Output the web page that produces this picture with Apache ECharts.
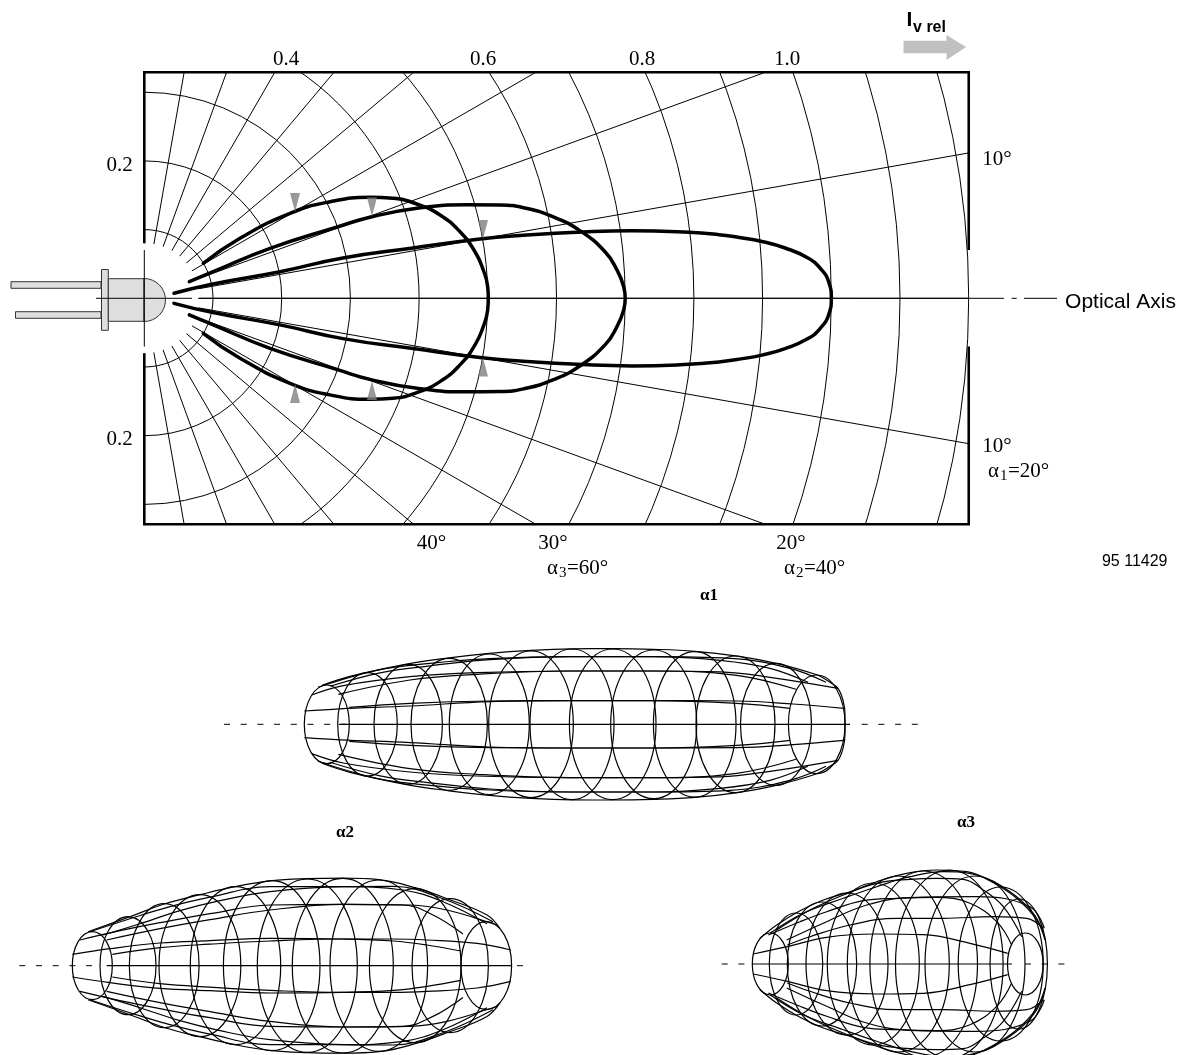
<!DOCTYPE html>
<html><head><meta charset="utf-8">
<script src="https://cdn.jsdelivr.net/npm/echarts@6/dist/echarts.min.js"></script>
<style>html,body{margin:0;padding:0;background:#fff}#c{width:1185px;height:1055px}</style>
</head><body><div id="c"></div>
<script>
// --- radiation lobes: upper halves as [relative intensity along axis, across axis]
const lobeA1 = [[.0432,.0073],[.100,.0208],[.1975,.0387],[.2892,.0587],[.3911,.0732],[.4886,.0863],[.5468,.0914],[.6458,.0969],[.7098,.0984],[.7929,.0961],[.8363,.0926],[.8686,.0882],[.9006,.0824],[.9327,.0732],[.9647,.0594],[.9836,.0441],[.9967,.0223],[1.0,0]];
const lobeA2 = [[.0655,.0242],[.1003,.0387],[.1830,.0728],[.2820,.1042],[.3314,.1188],[.3970,.1310],[.4697,.1362],[.5177,.1358],[.5556,.1310],[.5946,.1188],[.6328,.0993],[.6706,.0678],[.6880,.0412],[.6978,.0169],[.7000,0]];
const lobeA3 = [[.0859,.0509],[.1393,.0873],[.2121,.1237],[.2703,.1406],[.3285,.1470],[.3620,.1456],[.3965,.1373],[.4304,.1213],[.4595,.0969],[.4814,.0678],[.4934,.0412],[.4998,.0169],[.5007,0]];
const halfMarksUp = [[.2194,.1394],[.3314,.1329],[.4930,.1001]];
const halfMarksDown = [[.2194,-.1386],[.3314,-.1342],[.4930,-.1000]];
const opticalAxis = [[[-.0703,0],[.0694,0]],[[.0782,0],[1.2513,0]],[[1.2625,0],[1.2698,0]],[[1.2805,0],[1.3285,0]]];
const frameParts = [[[0,.08],[0,.329],[1.2,.329],[1.2,.0703]],[[0,-.08],[0,-.329],[1.2,-.329],[1.2,-.0703]]];
const ledAxisLine = [[0,.0703],[0,-.0703]];

// --- tick labels
const topTicks = ['0.4','0.6','0.8','1.0'];
const sideTicks = ['0.2','0.2'];
const rightTicks = ['10°','10°'];
const bottomTicks = ['40°','30°','20°'];

// --- wireframe balloons: rings [centre, half width, half height], meridians [along, offset]
const ringsA1 = [[326.8,22.5,39.3],[367.5,29.8,51.7],[408.2,34.2,60],[449.2,38.2,66],[489.3,40,70.3],[531,42.3,73.3],[572,42,75.3],[612.7,43.3,75.3],[653.7,43,74.3],[694.7,41.3,72.7],[735.5,39.5,68.3],[776,35.5,61],[816.7,28.3,49.3]];
const meridiansA1 = [
 [[304.3,13.3],[340,15.5],[410,18.3],[490,22.7],[570,23.7],[653,23.7],[736.7,21],[790,16]],
 [[349.3,17],[410,21],[490,23.3],[570,23.7],[653,23.7],[736.7,23.3],[793,20.3],[844,16]],
 [[311.7,29.3],[343.3,38.7],[410,47.7],[476.7,51.7],[570,53.3],[653,53.3],[736.7,49],[796,35]],
 [[338.3,30],[410,44.3],[476.7,50],[570,53.3],[653,53.3],[720,52.5],[770,47],[838,36]],
 [[318,37],[376.7,54],[430,61],[490,65.7],[570,67.7],[653,67.7],[720,64],[770,56],[808,42]],
 [[330,38],[380,51.5],[430,58.5],[490,64.7],[570,67.7],[653,67.7],[730,66],[790,56],[826,42]],
 [[322,39],[350,48],[408,60.5],[449,66.5],[489.3,71],[531,74],[572,75.5],[613,75.7],[653,75],[695,73],[735.5,68.5],[776,61],[816.7,49.5],[830,42],[838,36],[843,24],[845,10],[845,0]]
];
const ringsA2 = [[92.3,20,34],[128,28,49],[164.2,34.9,62],[199.9,40.9,71],[235.5,45.2,79],[271.7,48.3,85],[307.3,50,86.7],[342.8,50.5,87.3],[378.8,48.8,85.7],[415.2,45.8,77],[450.2,38.2,67],[486.3,25.3,44]];
const meridiansA2 = [
 [[72.3,11.3],[110,17],[160,22.7],[210,25],[270,27.3],[343,26.7],[393,24.7],[427,20.7],[461,14.7]],
 [[112.3,11.3],[160,18],[210,21.5],[270,24.7],[343,26.7],[393,26.7],[427,25.7],[477,22.3],[510.7,15.7]],
 [[80,25.7],[120,35],[160,43],[210,52],[270,60.7],[343,61.3],[403,60.7],[433,50.7],[463,31.7]],
 [[106.7,25.7],[160,37],[210,46],[270,55.7],[343,61.3],[410,60.7],[447,55.7],[493,42],[498,40]],
 [[90,34],[130,47],[170,59],[210,68.5],[270,79],[343,79],[403,75.7],[443,64],[487,42]],
 [[103,30.7],[140,42],[180,55],[220,65],[270,74],[343,79],[393,79.3],[443,67],[493,44]],
 [[88,34],[130,49],[165,62],[200,71],[235,79],[272,85],[307,87],[343,87.5],[379,86],[415,78],[447,67],[487,50.7],[500,37]]
];
const ringsA3 = [[770.3,18,31],[796,26.7,51],[822,34.7,62],[847,41,71],[873.3,46,81],[898.3,51,88],[923.7,53.8,93],[949.3,53.8,94],[975,50,88],[1000.7,42.5,77],[1018.7,28.7,65],[1025.3,17.8,31]];
const meridiansA3 = [
 [[753.3,10],[787.3,17.3],[826.7,26.7],[876.7,30],[923.3,29.3],[970,20.7],[1007.7,10.7]],
 [[787.3,19],[810,27.3],[850,39],[896.7,45.7],[943.3,45.7],[993.3,47.3],[1026.7,45.7],[1043.3,35.7]],
 [[768.3,29],[800,42.3],[826.7,52.3],[863.3,63.3],[896.7,65.7],[936.7,66.7],[970,60.7],[996.7,42.3],[1011.7,19]],
 [[776.7,34],[810,54],[843.3,69],[876.7,80.7],[910,84.7],[936.7,85.7],[963.3,84.7],[983.3,74],[1003.3,57.3],[1021.7,27.3]],
 [[786.7,24],[826.7,42.3],[866.7,59],[910,66.3],[976.7,67.3],[1030,57.3],[1044.3,35.7]],
 [[760,25.7],[776.7,39],[800,53.3],[823.3,64],[850,72.3],[876.7,82.3],[906.7,90.7],[936.7,94],[966.7,92.3],[993.3,81.3],[1016.7,65.7],[1036.7,44],[1045,24]],
 [[770,30.7],[803.3,50.7],[843.3,65.7],[876.7,77.3],[910,87.3],[943.3,92.3],[976.7,89],[1010,72.3],[1033.3,50.7],[1043.3,30.7]]
];
const axisA1 = {solid:[[339,0],[850,0]], dashed:[[[224,0],[347,0]],[[861.7,0],[918,0]]]};
const axisA2 = {solid:[[106.7,0],[511.7,0]], dashed:[[[19.3,0],[103,0]],[[517,0],[523,0]]]};
const axisA3 = {solid:[[752,0],[1012,0]], dashed:[[[721.7,0],[752,0]],[[1025,0],[1072,0]]]};

const serif = '"Liberation Serif"', sans = '"Liberation Sans"';
const series = [], graphics = [];
const black = '#000';

function line(data, xi, width, extra) {
  series.push(Object.assign({type:'line', data, xAxisIndex:xi, yAxisIndex:xi, showSymbol:false, silent:true, clip:false, z:3,
    lineStyle:Object.assign({color:black, width}, extra||{})}, (extra&&extra.smooth)?{smooth:extra.smooth}:{}));
}
// main diagram
opticalAxis.forEach(s=>line(s,0,1));
line(ledAxisLine,0,1);
frameParts.forEach(s=>line(s,0,2.6,{cap:'butt',join:'miter'}));
[lobeA1,lobeA2,lobeA3].forEach(h=>{
  const full = h.concat(h.slice(0,-1).reverse().map(p=>[p[0],-p[1]]));
  line(full,0,3.5,{cap:'round',join:'round',smooth:0.5});
});
const grayTri = {color:'#808080'};
series.push({type:'scatter',xAxisIndex:0,yAxisIndex:0,data:halfMarksUp,symbol:'triangle',symbolRotate:180,symbolSize:[10,19],itemStyle:grayTri,silent:true,clip:false,z:4});
series.push({type:'scatter',xAxisIndex:0,yAxisIndex:0,data:halfMarksDown,symbol:'triangle',symbolSize:[10,19],itemStyle:grayTri,silent:true,clip:false,z:4});

// balloons
const wire = 1.2;
function balloon(rings, meridians, axis, xi) {
  series.push({type:'custom',coordinateSystem:'cartesian2d',xAxisIndex:xi,yAxisIndex:xi,data:rings,silent:true,clip:false,z:3,
    encode:{x:0,y:1},
    renderItem(p,api){
      const c=api.coord([api.value(0),0]), s=api.size([api.value(1),api.value(2)]);
      return {type:'ellipse',shape:{cx:c[0],cy:c[1],rx:s[0],ry:s[1]},style:{fill:'none',stroke:black,lineWidth:wire}};
    }});
  meridians.forEach(m=>{
    line(m,xi,wire,{smooth:0.4,join:'round'});
    line(m.map(p=>[p[0],-p[1]]),xi,wire,{smooth:0.4,join:'round'});
  });
  line(axis.solid,xi,wire);
  axis.dashed.forEach(d=>line(d,xi,1,{type:[6,10.7]}));
}
balloon(ringsA1,meridiansA1,axisA1,1);
balloon(ringsA2,meridiansA2,axisA2,2);
balloon(ringsA3,meridiansA3,axisA3,3);

// masks that trim the polar net to the frame, and the blank disc round the source
[[0,0,1185,71.5],[0,525,1185,530],[969.4,0,216,1055],[0,0,144,1055]].forEach(r=>graphics.push({type:'rect',shape:{x:r[0],y:r[1],width:r[2],height:r[3]},style:{fill:'#fff'},z:1,silent:true}));
graphics.push({type:'circle',shape:{cx:144.3,cy:298.3,r:55},style:{fill:'#fff'},z:1,silent:true});

// LED
const ledStyle={fill:'#dedede',stroke:'#333',lineWidth:1};
[[11,281.7,90,6.6],[15.5,311.7,85.5,6.6],[101.5,269.5,6.8,60.8],[108.3,278.7,35.7,42.6]].forEach(r=>graphics.push({type:'rect',shape:{x:r[0],y:r[1],width:r[2],height:r[3]},style:ledStyle,z:2,silent:true}));
graphics.push({type:'sector',shape:{cx:144,cy:300,r:21.5,r0:0,startAngle:-Math.PI/2,endAngle:Math.PI/2,clockwise:true},style:ledStyle,z:2,silent:true});
// arrow
graphics.push({type:'polygon',shape:{points:[[903.5,40.7],[946.5,40.7],[946.5,35],[966,47],[946.5,60],[946.5,53.3],[903.5,53.3]]},style:{fill:'#c0c0c0'},z:2,silent:true});

function text(t,x,y,font,align){
  graphics.push({type:'text',x,y:y+(font.includes('Serif')?1:0),z:5,silent:true,style:{text:t,font,fill:'#000',textAlign:align||'center',textVerticalAlign:'middle'}});
}
const f21='21px '+serif;
[286,483,642,787].forEach((x,i)=>text(topTicks[i],x,58,f21));
[164,438].forEach((y,i)=>text(sideTicks[i],119.5,y,f21));
[158,445].forEach((y,i)=>text(rightTicks[i],997,y,f21));
[431.5,553,791].forEach((x,i)=>text(bottomTicks[i],x,542,f21));
function alpha(x,y,sub,rest){
  text('α',x,y,f21,'left'); text(sub,x+12,y+5,'15px '+serif,'left'); text(rest,x+20,y,f21,'left');
}
alpha(988,470,'1','=20°'); alpha(547,567,'3','=60°'); alpha(784,567,'2','=40°');
text('Optical Axis',1120.5,302,'21px '+sans);
text('95 11429',1134.7,561.7,'16px '+sans);
text('I',909.5,20,'bold 21px '+sans);
text('v rel',929.5,28,'bold 16px '+sans);
text('α1',709,595,'bold 17px '+serif);
text('α2',345,832,'bold 17px '+serif);
text('α3',966,822,'bold 17px '+serif);

const hidden={show:false};
function ax(g,min,max){return {type:'value',gridIndex:g,min,max,show:false,splitLine:hidden};}
const chart=echarts.init(document.getElementById('c'),null,{renderer:'canvas'});
chart.setOption({
  animation:false, backgroundColor:'#fff',
  grid:[
    {left:0,width:1185,top:72.3,height:452},
    {left:0,width:1185,top:624.3,height:200},
    {left:0,width:1185,top:765.7,height:289.3},
    {left:0,width:1185,top:764,height:291}
  ],
  xAxis:[ax(0,-.21004,1.5148),ax(1,0,1185),ax(2,0,1185),ax(3,0,1185)],
  yAxis:[ax(0,-.329,.329),ax(1,-100,100),ax(2,-89.3,200),ax(3,-91,200)],
  polar:{center:[144.3,298.3],radius:[0,893.1]},
  radiusAxis:{type:'value',min:0,max:1.3,interval:.1,axisLine:hidden,axisTick:hidden,axisLabel:hidden,
    splitLine:{show:true,lineStyle:{color:black,width:1}}},
  angleAxis:{type:'value',min:0,max:360,interval:10,startAngle:0,axisLine:hidden,axisTick:hidden,axisLabel:hidden,
    splitLine:{show:true,lineStyle:{color:black,width:1}}},
  graphic:{elements:graphics},
  series
});
</script></body></html>
